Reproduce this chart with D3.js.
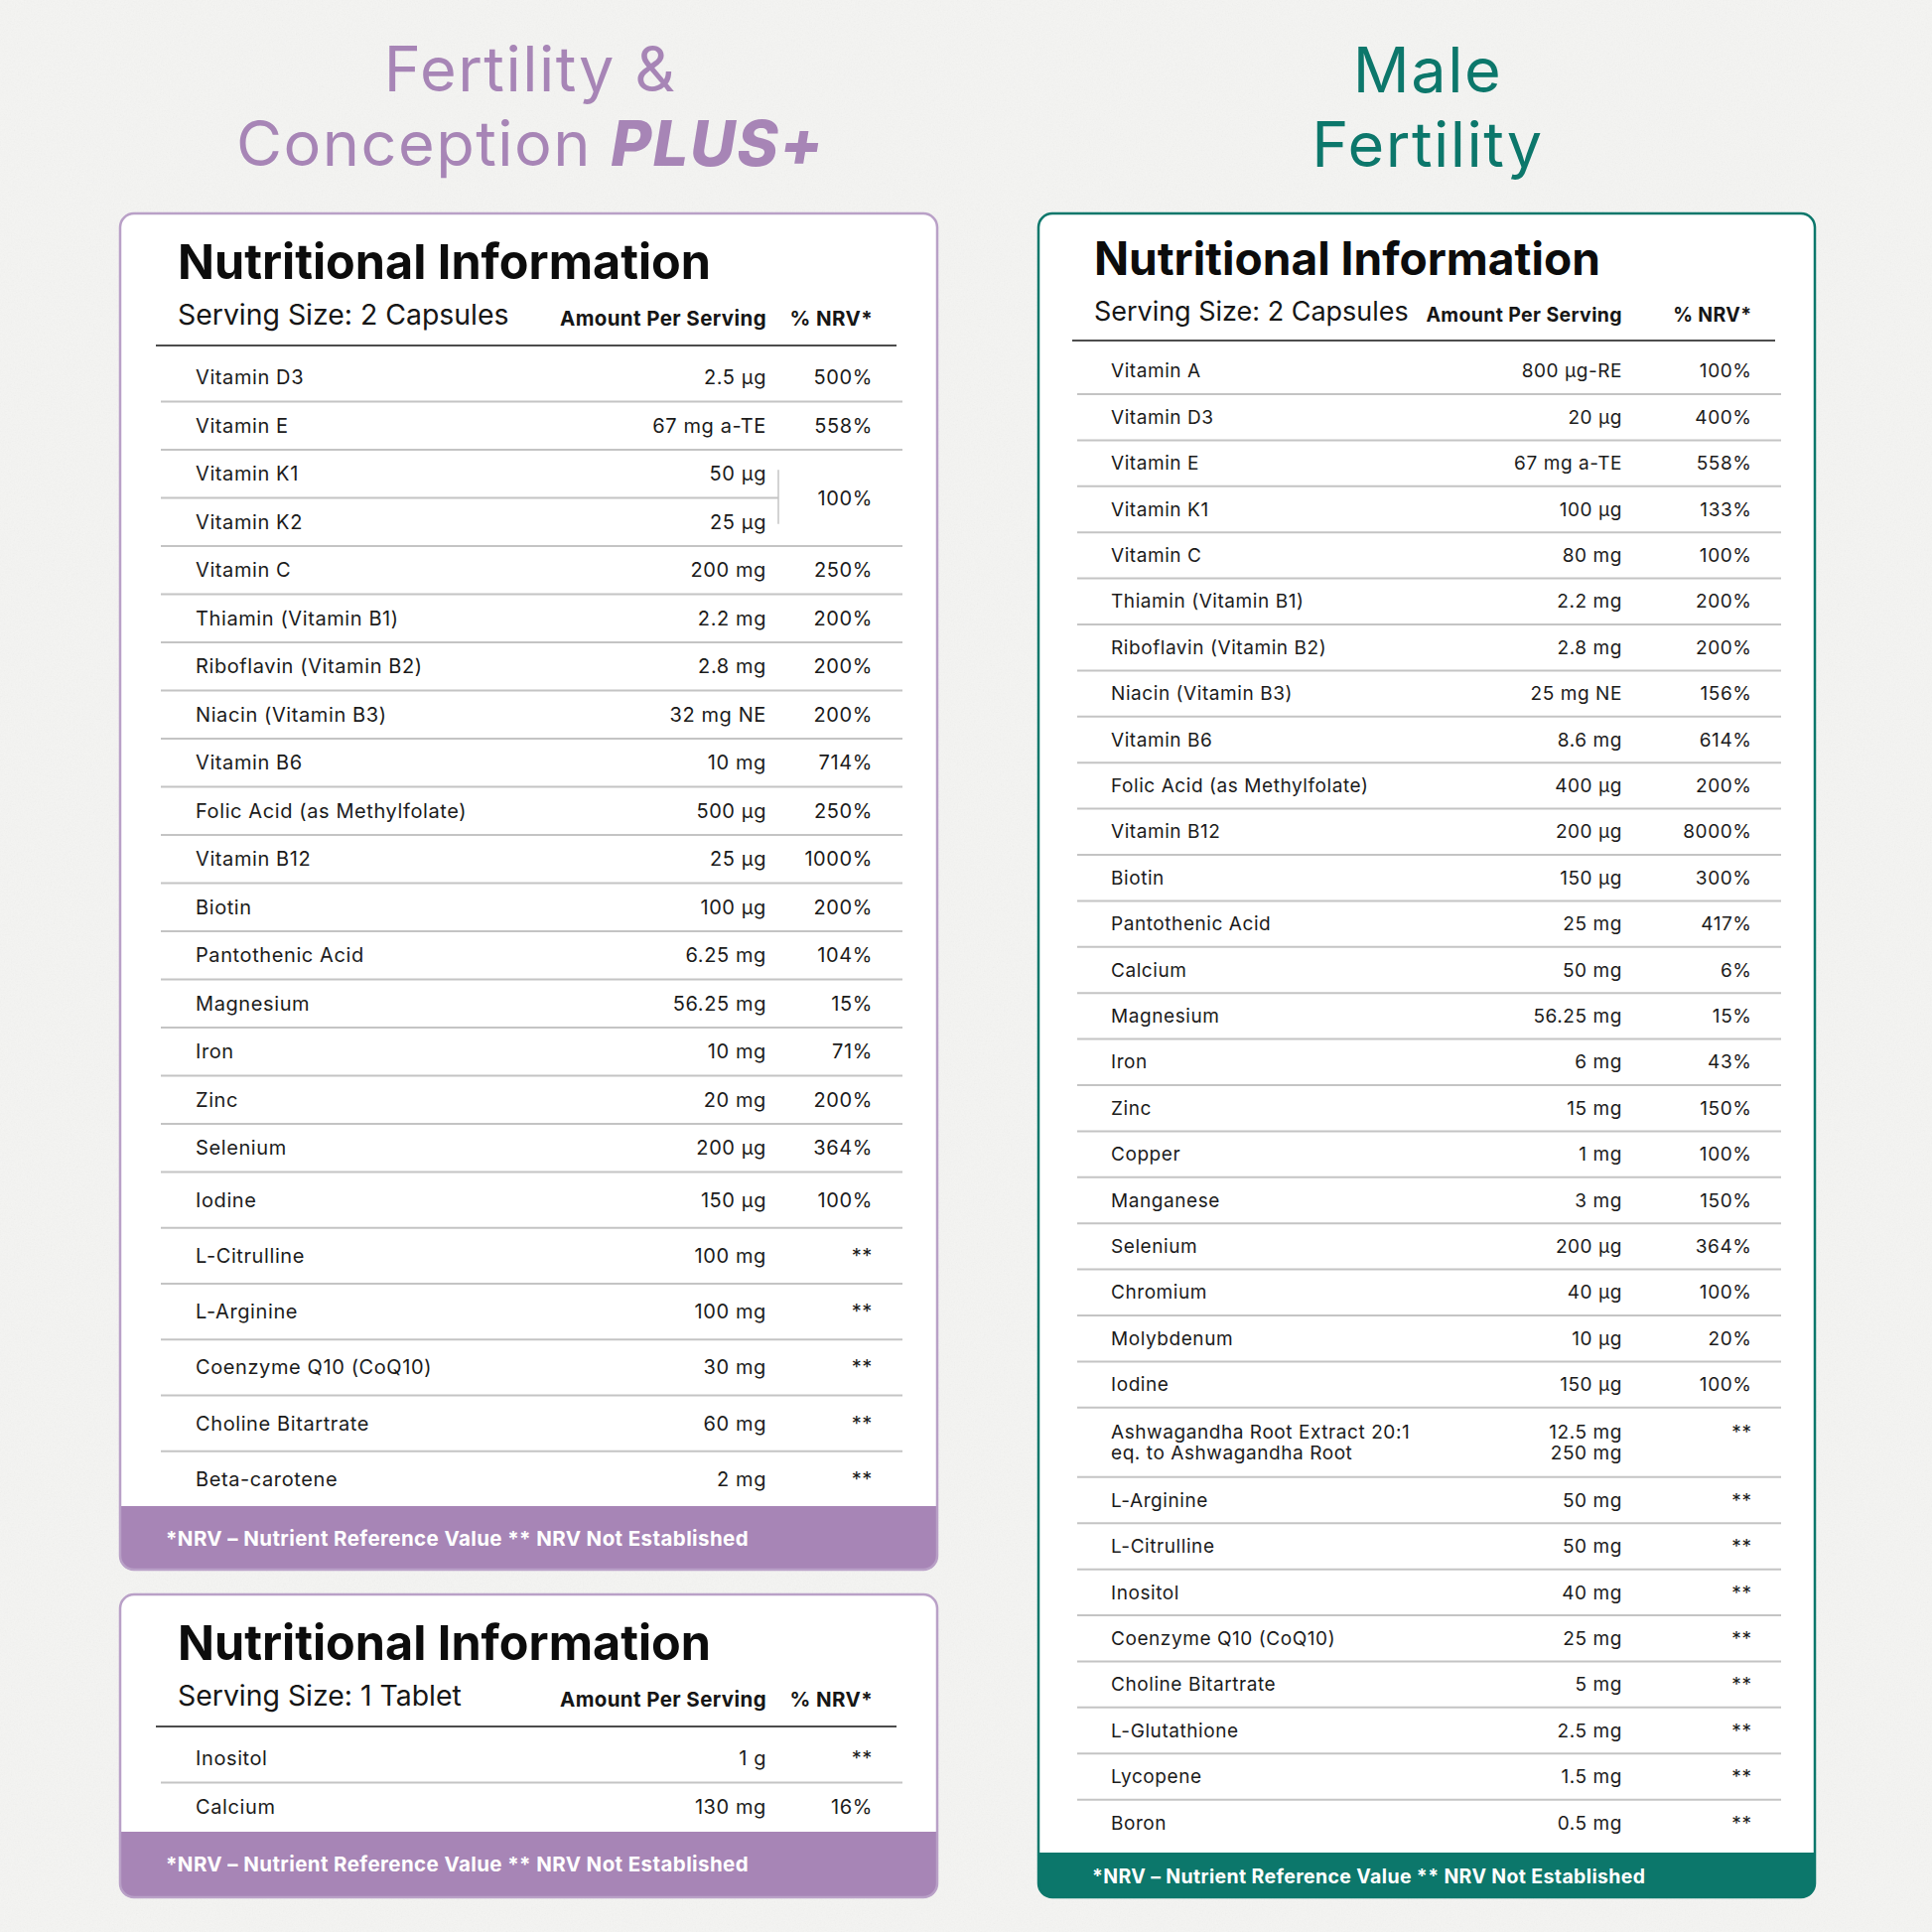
<!DOCTYPE html>
<html>
<head>
<meta charset="utf-8">
<script src="https://cdn.jsdelivr.net/npm/d3@7"></script>
<style>
  html, body { margin: 0; padding: 0; background: #f1f1ef; }
  svg { display: block; font-family: Inter, "Open Sans", sans-serif; }
</style>
</head>
<body>
<div id="viz"></div>
<script>
// ---- data ----
// Fertility & Conception PLUS+ (capsules)
const fcpNames = ["Vitamin D3", "Vitamin E", "Vitamin K1", "Vitamin K2", "Vitamin C",
  "Thiamin (Vitamin B1)", "Riboflavin (Vitamin B2)", "Niacin (Vitamin B3)", "Vitamin B6",
  "Folic Acid (as Methylfolate)", "Vitamin B12", "Biotin", "Pantothenic Acid", "Magnesium",
  "Iron", "Zinc", "Selenium", "Iodine", "L-Citrulline", "L-Arginine", "Coenzyme Q10 (CoQ10)",
  "Choline Bitartrate", "Beta-carotene"]
const fcpAmounts = ["2.5 µg", "67 mg a-TE", "50 µg", "25 µg", "200 mg", "2.2 mg", "2.8 mg",
  "32 mg NE", "10 mg", "500 µg", "25 µg", "100 µg", "6.25 mg", "56.25 mg", "10 mg", "20 mg",
  "200 µg", "150 µg", "100 mg", "100 mg", "30 mg", "60 mg", "2 mg"]
const fcpNrv = ["500%", "558%", "100%", "100%", "250%", "200%", "200%", "200%", "714%", "250%",
  "1000%", "200%", "104%", "15%", "71%", "200%", "364%", "100%", "**", "**", "**", "**", "**"]
// rows that share one NRV cell
const fcpShared = [["Vitamin K1", "Vitamin K2"]]

// Fertility & Conception PLUS+ (tablet)
const tabNames = ["Inositol", "Calcium"]
const tabAmounts = ["1 g", "130 mg"]
const tabNrv = ["**", "16%"]

// Male Fertility
const maleNames = ["Vitamin A", "Vitamin D3", "Vitamin E", "Vitamin K1", "Vitamin C",
  "Thiamin (Vitamin B1)", "Riboflavin (Vitamin B2)", "Niacin (Vitamin B3)", "Vitamin B6",
  "Folic Acid (as Methylfolate)", "Vitamin B12", "Biotin", "Pantothenic Acid", "Calcium",
  "Magnesium", "Iron", "Zinc", "Copper", "Manganese", "Selenium", "Chromium", "Molybdenum",
  "Iodine", "Ashwagandha Root Extract 20:1\neq. to Ashwagandha Root", "L-Arginine",
  "L-Citrulline", "Inositol", "Coenzyme Q10 (CoQ10)", "Choline Bitartrate", "L-Glutathione",
  "Lycopene", "Boron"]
const maleAmounts = ["800 µg-RE", "20 µg", "67 mg a-TE", "100 µg", "80 mg", "2.2 mg", "2.8 mg",
  "25 mg NE", "8.6 mg", "400 µg", "200 µg", "150 µg", "25 mg", "50 mg", "56.25 mg", "6 mg",
  "15 mg", "1 mg", "3 mg", "200 µg", "40 µg", "10 µg", "150 µg", "12.5 mg\n250 mg", "50 mg",
  "50 mg", "40 mg", "25 mg", "5 mg", "2.5 mg", "1.5 mg", "0.5 mg"]
const maleNrv = ["100%", "400%", "558%", "133%", "100%", "200%", "200%", "156%", "614%", "200%",
  "8000%", "300%", "417%", "6%", "15%", "43%", "150%", "100%", "150%", "364%", "100%", "20%",
  "100%", "**", "**", "**", "**", "**", "**", "**", "**", "**"]

const heading = "Nutritional Information"
const colAmount = "Amount Per Serving"
const colNrv = "% NRV*"
const footNote = "*NRV – Nutrient Reference Value ** NRV Not Established"

// ---- layout ----
const W = 1946, H = 1946
const purple = "#a785b6"
const teal = "#0c776b"

const svg = d3.select('#viz').append('svg')
  .attr('width', W).attr('height', H)

// paper texture
const defs = svg.append('defs')
const f = defs.append('filter').attr('id', 'paper').attr('x', 0).attr('y', 0).attr('width', 1).attr('height', 1)
f.append('feTurbulence').attr('type', 'fractalNoise').attr('baseFrequency', 0.7).attr('numOctaves', 3).attr('seed', 4)
f.append('feColorMatrix').attr('type', 'saturate').attr('values', 0)
svg.append('rect').attr('width', W).attr('height', H).attr('fill', '#f4f4f2')
svg.append('rect').attr('width', W).attr('height', H).attr('filter', 'url(#paper)').attr('opacity', 0.07)

// product titles
const titles = svg.append('g').attr('text-anchor', 'middle').attr('font-size', 63).attr('letter-spacing', 1.5)
const t1 = titles.append('text').attr('x', 534).attr('y', 92).attr('fill', purple)
t1.text('Fertility &')
const t2 = titles.append('text').attr('x', 534).attr('y', 167).attr('fill', purple)
t2.append('tspan').text('Conception ')
t2.append('tspan').attr('font-weight', 800).attr('font-style', 'italic').text('PLUS+')
titles.append('text').attr('x', 1438).attr('y', 93).attr('fill', teal).text('Male')
titles.append('text').attr('x', 1438).attr('y', 168).attr('fill', teal).text('Fertility')

const cards = [
  {
    x: 121, y: 215, w: 823, h: 1366, color: purple, border: '#b9a0c7', s: 1,
    serving: "Serving Size: 2 Capsules",
    names: fcpNames, amounts: fcpAmounts, nrv: fcpNrv, shared: fcpShared,
    titleY: 66, servY: 112, headY: 133, rowsTop: 141, pitch: 48.5,
    looseFrom: 17, looseUnit: 1.16, lineUnit: 0.5,
    label: 76, amount: 651, nrvX: 758, lineL: 41, lineR: 788, headL: 36, headR: 782, split: 663,
    footH: 64, footY: 40, footX: 46
  },
  {
    x: 121, y: 1606, w: 823, h: 305, color: purple, border: '#b9a0c7', s: 1,
    serving: "Serving Size: 1 Tablet",
    names: tabNames, amounts: tabAmounts, nrv: tabNrv, shared: [],
    titleY: 66, servY: 112, headY: 133, rowsTop: 141, pitch: 48.5,
    looseFrom: null, looseUnit: 1, lineUnit: 0.5,
    label: 76, amount: 651, nrvX: 758, lineL: 41, lineR: 788, headL: 36, headR: 782, split: 663,
    footH: 66, footY: 40, footX: 46
  },
  {
    x: 1046, y: 215, w: 782, h: 1696, color: teal, border: teal, s: 0.95,
    serving: "Serving Size: 2 Capsules",
    names: maleNames, amounts: maleAmounts, nrv: maleNrv, shared: [],
    titleY: 62, servY: 108, headY: 128, rowsTop: 135.6, pitch: 46.4,
    looseFrom: null, looseUnit: 1, lineUnit: 0.51,
    label: 73, amount: 588, nrvX: 718.5, lineL: 39, lineR: 748, headL: 34, headR: 742, split: 0,
    footH: 45, footY: 31, footX: 54
  }
]

function drawCard(c) {
  const g = svg.append('g').attr('transform', `translate(${c.x},${c.y})`)
  const s = c.s
  const r = 14

  const rows = c.names.map((n, i) => ({
    name: n.split('\n'), amount: c.amounts[i].split('\n'), nrv: c.nrv[i], key: n
  }))
  let acc = 0
  rows.forEach((d, i) => {
    d.units = (1 + (d.name.length - 1) * c.lineUnit) * (c.looseFrom != null && i >= c.looseFrom ? c.looseUnit : 1)
    d.u0 = acc
    acc += d.units
    d.u1 = acc
  })
  const y = d3.scaleLinear().domain([0, acc]).range([c.rowsTop, c.rowsTop + acc * c.pitch])

  // body + footer
  g.append('rect').attr('width', c.w).attr('height', c.h).attr('rx', r).attr('fill', '#fff')
  const fy = c.h - c.footH
  g.append('path')
    .attr('d', `M0,${fy}H${c.w}V${c.h - r}Q${c.w},${c.h} ${c.w - r},${c.h}H${r}Q0,${c.h} 0,${c.h - r}Z`)
    .attr('fill', c.color)
  g.append('rect').attr('x', 0).attr('y', 0).attr('width', c.w).attr('height', c.h).attr('rx', r)
    .attr('fill', 'none').attr('stroke', c.border).attr('stroke-width', 2.5)

  // header
  g.append('text').attr('x', c.label - 18 * s).attr('y', c.titleY)
    .attr('font-size', 48.5 * s).attr('font-weight', 700).attr('fill', '#0c0c0c').text(heading)
  g.append('text').attr('x', c.label - 18 * s).attr('y', c.servY)
    .attr('font-size', 28.4 * s).attr('fill', '#161616').text(c.serving)
  g.append('text').attr('x', c.amount).attr('y', c.servY + 1).attr('text-anchor', 'end')
    .attr('font-size', 20.5 * s).attr('letter-spacing', 0.4 * s).attr('font-weight', 700).attr('fill', '#161616').text(colAmount)
  g.append('text').attr('x', c.nrvX).attr('y', c.servY + 1).attr('text-anchor', 'end')
    .attr('font-size', 20.5 * s).attr('letter-spacing', 0.4 * s).attr('font-weight', 700).attr('fill', '#161616').text(colNrv)
  g.append('line').attr('x1', c.headL).attr('x2', c.headR).attr('y1', c.headY).attr('y2', c.headY)
    .attr('stroke', '#4d4d4d').attr('stroke-width', 2)

  // shared nrv groups
  const groupOf = {}
  c.shared.forEach(grp => grp.forEach((k, j) => groupOf[k] = { grp, j }))

  // separators
  const seps = rows.slice(0, -1)
  g.selectAll('line.sep').data(seps).join('line').attr('class', 'sep')
    .attr('x1', c.lineL)
    .attr('x2', d => {
      const gi = groupOf[d.key]
      return gi && gi.j < gi.grp.length - 1 ? c.split : c.lineR
    })
    .attr('y1', d => y(d.u1)).attr('y2', d => y(d.u1))
    .attr('stroke', '#c4c4c4').attr('stroke-width', 2)

  const fs = 20 * s
  const lh = 22 * s
  const base = d => (y(d.u0) + y(d.u1)) / 2 + 7 * s - (d.name.length - 1) * lh / 2

  const rg = g.selectAll('g.row').data(rows).join('g').attr('class', 'row')
    .attr('font-size', fs).attr('letter-spacing', 0.6 * s).attr('fill', '#1b1b1b')

  rg.selectAll('text.name').data(d => d.name.map((t, k) => ({ t, k, d }))).join('text')
    .attr('class', 'name').attr('x', c.label).attr('y', e => base(e.d) + e.k * lh).text(e => e.t)
  rg.selectAll('text.amt').data(d => d.amount.map((t, k) => ({ t, k, d }))).join('text')
    .attr('class', 'amt').attr('x', c.amount).attr('text-anchor', 'end')
    .attr('y', e => base(e.d) + e.k * lh).text(e => e.t)

  rg.filter(d => !groupOf[d.key]).append('text')
    .attr('x', c.nrvX).attr('text-anchor', 'end').attr('y', d => base(d)).text(d => d.nrv)

  c.shared.forEach(grp => {
    const first = rows.find(d => d.key === grp[0])
    const last = rows.find(d => d.key === grp[grp.length - 1])
    const ymid = (y(first.u0) + y(last.u1)) / 2
    g.append('text').attr('x', c.nrvX).attr('y', ymid + 7 * s).attr('text-anchor', 'end')
      .attr('font-size', fs).attr('letter-spacing', 0.6 * s).attr('fill', '#1b1b1b').text(first.nrv)
    g.append('line').attr('x1', c.split).attr('x2', c.split)
      .attr('y1', (y(first.u0) + y(first.u1)) / 2 - 4).attr('y2', (y(last.u0) + y(last.u1)) / 2 + 2)
      .attr('stroke', '#c4c4c4').attr('stroke-width', 1.5)
  })

  // footer note
  g.append('text').attr('x', c.footX).attr('y', fy + c.footY)
    .attr('font-size', 20.5 * s).attr('letter-spacing', 0.4 * s).attr('font-weight', 700).attr('fill', '#fff').text(footNote)
}

cards.forEach(drawCard)
</script>
</body>
</html>
